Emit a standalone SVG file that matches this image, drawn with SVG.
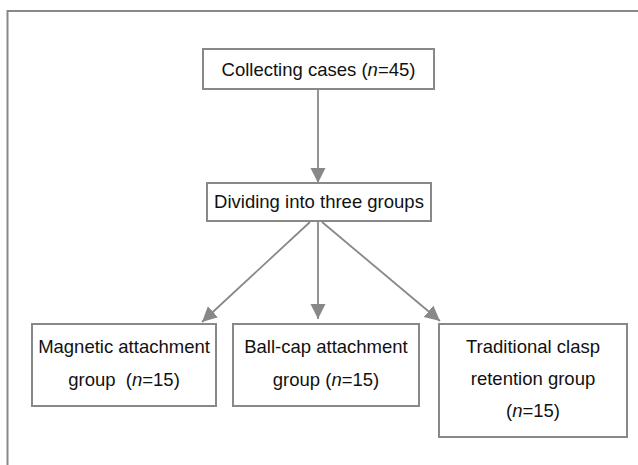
<svg xmlns="http://www.w3.org/2000/svg" width="638" height="465" viewBox="0 0 638 465">
<style>
.box{fill:#fff;stroke:#888;stroke-width:2}
.t{font-family:"Liberation Sans",Arial,sans-serif;font-size:18.5px;fill:#111;text-anchor:middle}
.c{stroke:#888;stroke-width:1.8;fill:none}
.frame{stroke:#888;stroke-width:2;fill:none}
</style>
<defs>
<marker id="ah" markerUnits="userSpaceOnUse" markerWidth="16" markerHeight="16" viewBox="0 0 16 16" refX="15" refY="8" orient="auto">
<path d="M0,0.5 L15,8 L0,15.5 Z" fill="#888"/>
</marker>
</defs>
<rect width="638" height="465" fill="#fff"/>
<path class="frame" d="M7.5,465 V11 H638"/>
<g id="connectors">
<line class="c" x1="318" y1="89" x2="318" y2="183" marker-end="url(#ah)"/>
<line class="c" x1="310" y1="222" x2="202" y2="322" marker-end="url(#ah)"/>
<line class="c" x1="318" y1="222" x2="318" y2="319" marker-end="url(#ah)"/>
<line class="c" x1="322" y1="222" x2="440" y2="321" marker-end="url(#ah)"/>
</g>
<g id="collect">
<rect class="box" x="203" y="49" width="231" height="40"/>
<text class="t" x="318.5" y="76">Collecting cases (<tspan font-style="italic">n</tspan>=45)</text>
</g>
<g id="divide">
<rect class="box" x="207" y="183" width="224" height="38"/>
<text class="t" x="319" y="208">Dividing into three groups</text>
</g>
<g id="magnetic">
<rect class="box" x="32" y="324" width="184" height="82"/>
<text class="t" x="124" y="353">Magnetic attachment</text>
<text class="t" x="124" y="386" xml:space="preserve">group  (<tspan font-style="italic">n</tspan>=15)</text>
</g>
<g id="ballcap">
<rect class="box" x="233" y="324" width="186" height="82"/>
<text class="t" x="326" y="353">Ball-cap attachment</text>
<text class="t" x="326" y="386">group (<tspan font-style="italic">n</tspan>=15)</text>
</g>
<g id="clasp">
<rect class="box" x="439" y="324" width="188" height="113"/>
<text class="t" x="533" y="353">Traditional clasp</text>
<text class="t" x="533" y="385">retention group</text>
<text class="t" x="533" y="417">(<tspan font-style="italic">n</tspan>=15)</text>
</g>
</svg>
